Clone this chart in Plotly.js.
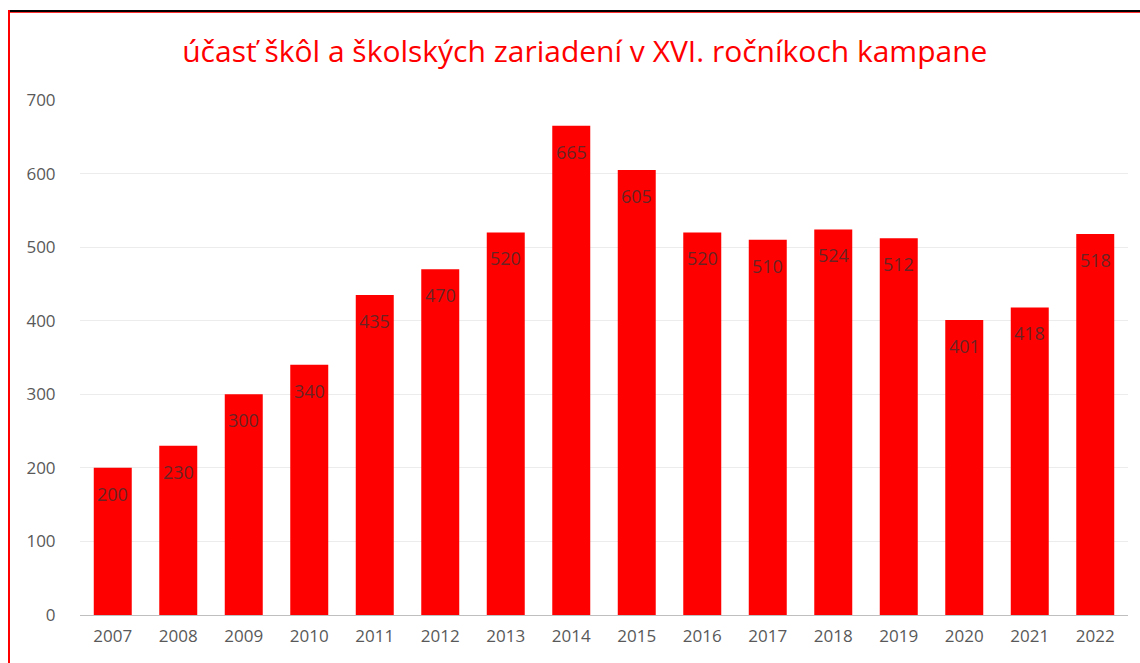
<!DOCTYPE html>
<html>
<head>
<meta charset="utf-8">
<script src="https://cdn.plot.ly/plotly-3.0.1.min.js"></script>
<style>
  html, body { margin: 0; padding: 0; background: #fff; }
  #wrap { position: relative; width: 1140px; height: 663px; overflow: hidden; }
  #chart { position: absolute; left: 0; top: 0; width: 1140px; height: 663px; }
  .bTop { position: absolute; left: 8px; top: 10px; width: 1140px; height: 2px; background: #000; }
  .bTopR { position: absolute; left: 8px; top: 12px; width: 1140px; height: 1px; background: #ff3030; }
  .bLeft { position: absolute; left: 8px; top: 10px; width: 2px; height: 663px; background: #ff0000; }
</style>
</head>
<body>
<div id="wrap">
  <div id="chart"></div>
  <div class="bTop"></div>
  <div class="bTopR"></div>
  <div class="bLeft"></div>
</div>
<script>
const years = ["2007","2008","2009","2010","2011","2012","2013","2014","2015","2016","2017","2018","2019","2020","2021","2022"];
const values = [200, 230, 300, 340, 435, 470, 520, 665, 605, 520, 510, 524, 512, 401, 418, 518];
const yTicks = [0, 100, 200, 300, 400, 500, 600, 700];
const titleText = "účasť škôl a školských zariadení v XVI. ročníkoch kampane";

const font = "'Open Sans', Lato, sans-serif";
const idx = years.map((y, i) => i);

const trace = {
  type: "bar",
  x: idx,
  y: values,
  marker: { color: "#ff0000", line: { width: 0 } },
  width: 0.58,
  hoverinfo: "x+y"
};

const annotations = idx.map(i => ({
  x: i, y: values[i], xref: "x", yref: "y",
  text: String(values[i]),
  showarrow: false,
  yanchor: "middle",
  yshift: -26,
  font: { family: font, size: 18, color: "rgba(85,40,40,0.9)" }
}));

const layout = {
  width: 1140, height: 663,
  margin: { l: 80, r: 12, t: 100, b: 48 },
  paper_bgcolor: "#ffffff",
  plot_bgcolor: "#ffffff",
  title: {
    text: titleText,
    x: 0.513, xanchor: "center",
    y: 0.923, yanchor: "middle",
    font: { family: font, size: 30, color: "#ff0000" }
  },
  showlegend: false,
  xaxis: {
    type: "linear",
    range: [-0.5, years.length - 0.5],
    tickvals: idx,
    ticktext: years,
    tickfont: { family: font, size: 17, color: "#595959" },
    showgrid: false,
    zeroline: false,
    showline: true, linecolor: "#bfbfbf", linewidth: 1,
    ticks: "outside", ticklen: 6, tickcolor: "rgba(0,0,0,0)"
  },
  yaxis: {
    range: [0, 700],
    tickvals: yTicks,
    ticktext: yTicks.map(String),
    tickfont: { family: font, size: 17, color: "#595959" },
    showgrid: true, gridcolor: "#ececec", gridwidth: 1,
    zeroline: false, showline: false,
    ticks: "outside", ticklen: 20, tickcolor: "rgba(0,0,0,0)"
  },
  annotations: annotations
};

Plotly.newPlot("chart", [trace], layout, { displayModeBar: false, staticPlot: true });
</script>
</body>
</html>
